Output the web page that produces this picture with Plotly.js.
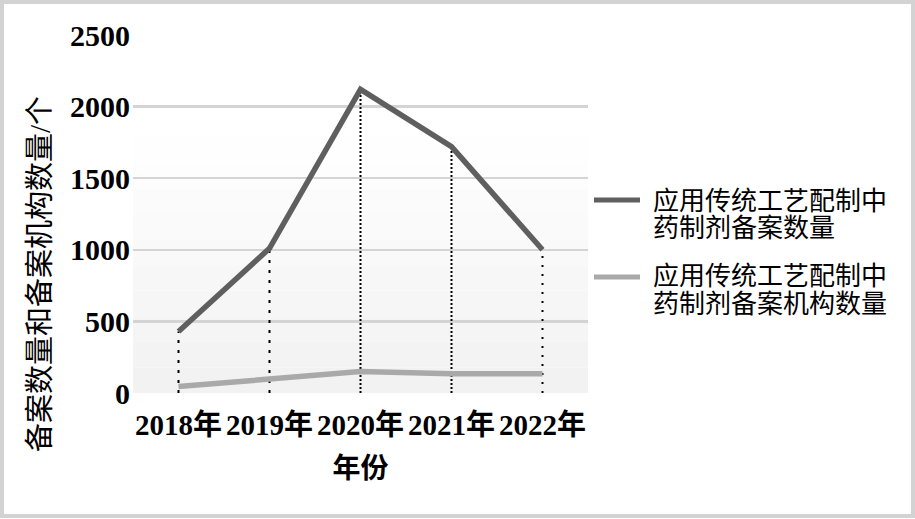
<!DOCTYPE html>
<html>
<head>
<meta charset="utf-8">
<script src="https://cdn.plot.ly/plotly-3.0.1.min.js"></script>
<style>html,body{margin:0;padding:0;background:#fff;}#chart{width:915px;height:519px;}</style>
</head>
<body>
<div id="chart"></div>
<script>
const years = ['2018年', '2019年', '2020年', '2021年', '2022年'];
const filingCount = [430, 1010, 2120, 1720, 1000];
const institutionCount = [45, 95, 150, 135, 135];
const seriesNames = ['应用传统工艺配制中<br>药制剂备案数量', '应用传统工艺配制中<br>药制剂备案机构数量'];
const seriesColors = ['#5f5f5f', '#a9a9a9'];

const FONT = '"Liberation Serif", "Times New Roman", "Noto Sans CJK SC", serif';

// plot area in pixels (for paper-coordinate placement of legend/title)
const PL = 133, PR = 588, PT = 35, PB = 393;
const px = x => (x - PL) / (PR - PL);
const py = y => (PB - y) / (PB - PT);

const dropDash = ['3px,7px', '3px,7px', '2px,2px', '2px,2px', '2px,7px'];
const dropTraces = years.map((y, i) => ({
  x: [y, y],
  y: [0, filingCount[i]],
  type: 'scatter',
  mode: 'lines',
  line: {color: '#000', width: 2, dash: dropDash[i]},
  showlegend: false,
  hoverinfo: 'skip'
}));

const traces = dropTraces.concat([
  {x: years, y: filingCount, name: seriesNames[0], type: 'scatter', mode: 'lines',
   line: {color: seriesColors[0], width: 5.5}, showlegend: false},
  {x: years, y: institutionCount, name: seriesNames[1], type: 'scatter', mode: 'lines',
   line: {color: seriesColors[1], width: 5.5}, showlegend: false}
]);

const shapes = [];
// subtle vertical background gradient: white at top to light gray at bottom
const bands = 14;
for (let k = 0; k < bands; k++) {
  const t = k / (bands - 1);
  const g = Math.round(255 - 13 * Math.max(0, (1 - t) - 0.25) / 0.75);
  shapes.push({type: 'rect', xref: 'paper', yref: 'paper', layer: 'below',
    x0: 0, x1: 1, y0: k / bands, y1: (k + 1) / bands,
    line: {width: 0}, fillcolor: `rgb(${g},${g},${g})`});
}
shapes.push({type: 'rect', xref: 'paper', yref: 'paper', x0: px(2), x1: px(913), y0: py(516), y1: py(2),
  line: {color: '#d3d3d3', width: 4}, fillcolor: 'rgba(0,0,0,0)', layer: 'below'});

const annotations = [
  {xref: 'paper', yref: 'paper', x: px(40), y: py(274), text: '备案数量和备案机构数量/个',
   textangle: -90, showarrow: false, font: {size: 29, family: FONT}, xanchor: 'center', yanchor: 'middle'}
];
// manual legend
const legendLineY = [200, 277];
const legendTextY = [[201, 229], [276, 304]];
seriesNames.forEach((name, i) => {
  shapes.push({type: 'line', xref: 'paper', yref: 'paper', x0: px(594), x1: px(640),
    y0: py(legendLineY[i]), y1: py(legendLineY[i]), line: {color: seriesColors[i], width: 5}});
  name.split('<br>').forEach((part, j) => {
    annotations.push({xref: 'paper', yref: 'paper', x: px(651), y: py(legendTextY[i][j]),
      text: part, showarrow: false, xanchor: 'left', yanchor: 'middle',
      font: {size: 26, family: FONT}});
  });
});

const layout = {
  width: 915, height: 519,
  margin: {l: PL, r: 915 - PR, t: PT, b: 519 - PB},
  paper_bgcolor: '#fff',
  plot_bgcolor: '#fff',
  font: {family: FONT, color: '#000'},
  xaxis: {
    type: 'category',
    range: [-0.5, 4.5],
    showgrid: false, zeroline: false, showline: false,
    ticks: '',
    ticklabelstandoff: 12,
    tickfont: {size: 29, family: FONT, weight: 'bold'},
    title: {text: '年份', font: {size: 28, family: FONT, weight: 'bold'}, standoff: 18}
  },
  yaxis: {
    range: [0, 2500],
    dtick: 500,
    showgrid: true, gridcolor: '#d4d4d4', gridwidth: 2.5,
    zeroline: false, showline: false,
    ticks: '',
    ticklabelstandoff: 2,
    tickfont: {size: 30, family: FONT, weight: 'bold'}
  },
  shapes: shapes,
  annotations: annotations,
  showlegend: false
};

Plotly.newPlot('chart', traces, layout, {displayModeBar: false, staticPlot: true});
</script>
</body>
</html>
